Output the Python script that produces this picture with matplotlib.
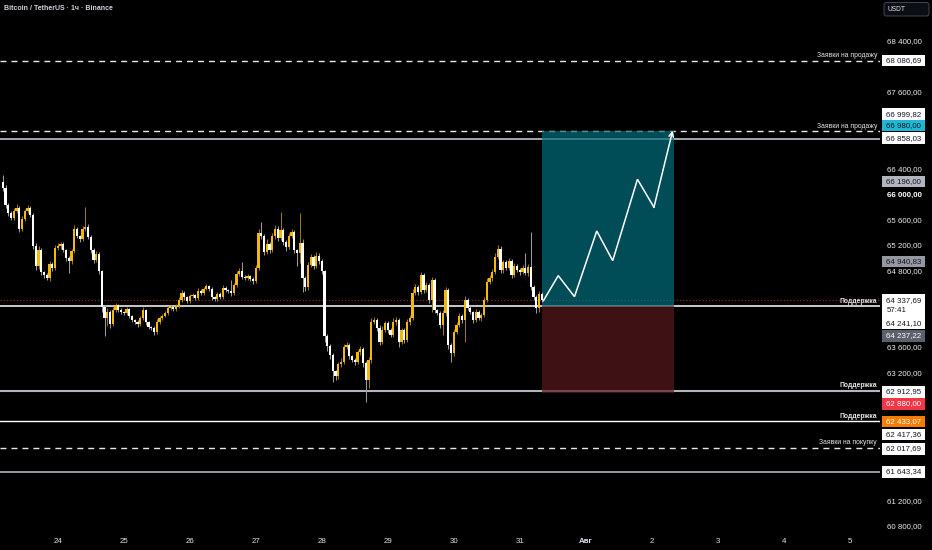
import numpy as np
import pandas as pd
import matplotlib
matplotlib.use("Agg")
import matplotlib.pyplot as plt
import matplotlib.dates as mdates
from matplotlib.patches import Rectangle, FancyBboxPatch
from matplotlib.transforms import IdentityTransform, blended_transform_factory, offset_copy


# ---- data (BTCUSDT 1h, Binance) ----
FIRST_BAR = "2024-07-23 04:00"
OPEN_FIRST = 66186.0

CLOSE = [
    66092, 65826, 65700, 65622, 65731, 65779, 65450, 65606, 65731, 65779,
    65669, 65183, 64870, 65120, 64776, 64729, 64682, 64901, 64839, 65151,
    65183, 65214, 65120, 64995, 64948, 65104, 65450, 65340, 65293, 65450,
    65481, 65324, 65120, 64964, 65057, 64791, 64227, 64055, 64149, 63961,
    64180, 64258, 64180, 64149, 64133, 64196, 64086, 64023, 63992, 63961,
    64055, 64180, 63992, 63914, 63898, 63836, 63992, 64055, 64086, 64133,
    64211, 64227, 64196, 64243, 64337, 64446, 64384, 64321, 64400, 64415,
    64368, 64477, 64446, 64509, 64556, 64509, 64384, 64352, 64431, 64384,
    64525, 64493, 64477, 64446, 64572, 64744, 64791, 64697, 64682, 64713,
    64666, 64634, 64839, 65387, 65340, 65089, 65214, 65120, 65340, 65450,
    65308, 65434, 65246, 65167, 65340, 65402, 65120, 65073, 65230, 64682,
    64540, 64885, 65010, 64870, 65026, 64948, 64791, 63773, 63616, 63475,
    63224, 63146, 63334, 63365, 63600, 63632, 63459, 63397, 63365, 63522,
    63569, 63350, 63083, 63397, 63992, 64023, 63898, 63679, 63867, 63977,
    63867, 63789, 63992, 64023, 63679, 63867, 63710, 63992, 64055, 64446,
    64540, 64462, 64729, 64493, 64572, 64337, 64650, 64180, 64133, 63945,
    64133, 64493, 63632, 63506, 63836, 63945, 64086, 64023, 64337, 64211,
    64149, 64023, 64149, 64055, 64102, 64337, 64619, 64682, 64776, 65010,
    65136, 64807, 64932, 64839, 64948, 64729, 64870, 64807, 64776, 64839,
    64760, 64854, 64540, 64384, 64211, 64430, 64337.69,
]

# upper / lower shadow length above / below the body, USDT
WICK_HI = [
    110, 40, 30, 25, 45, 60, 30, 50, 35, 40,
    30, 25, 40, 60, 30, 20, 25, 45, 30, 50,
    40, 30, 35, 20, 30, 25, 60, 30, 20, 45,
    313, 40, 25, 30, 45, 30, 20, 25, 70, 30,
    40, 35, 20, 25, 15, 30, 20, 15, 20, 25,
    30, 40, 20, 15, 20, 25, 40, 30, 25, 30,
    35, 25, 20, 30, 40, 45, 25, 20, 30, 25,
    20, 40, 25, 30, 35, 20, 25, 20, 30, 25,
    40, 25, 20, 170, 30, 45, 40, 141, 25, 30,
    20, 25, 40, 60, 172, 30, 80, 25, 50, 60,
    40, 282, 30, 25, 45, 50, 30, 20, 470, 60,
    25, 40, 50, 30, 70, 40, 30, 20, 25, 30,
    25, 20, 30, 60, 45, 40, 25, 20, 30, 35,
    40, 25, 30, 50, 70, 45, 30, 40, 60, 35,
    30, 25, 60, 40, 30, 35, 25, 50, 40, 60,
    45, 30, 50, 25, 40, 30, 40, 30, 20, 30,
    40, 50, 30, 25, 40, 45, 50, 30, 60, 35,
    25, 20, 40, 25, 30, 45, 60, 40, 50, 70,
    63, 40, 35, 30, 45, 25, 40, 30, 25, 40,
    234, 45, 549, 30, 25, 40, 30,
]
WICK_LO = [
    40, 50, 45, 30, 35, 25, 45, 30, 25, 30,
    35, 40, 60, 40, 45, 50, 32, 40, 45, 35,
    30, 40, 35, 45, 188, 40, 30, 35, 40, 30,
    25, 35, 40, 45, 30, 40, 77, 282, 120, 60,
    35, 30, 25, 30, 25, 30, 35, 25, 30, 40,
    30, 25, 40, 30, 25, 45, 30, 25, 30, 20,
    25, 30, 35, 25, 30, 25, 40, 30, 35, 25,
    30, 35, 25, 30, 20, 30, 40, 30, 25, 35,
    30, 25, 30, 40, 35, 30, 25, 35, 30, 25,
    30, 40, 35, 30, 45, 50, 35, 40, 30, 45,
    40, 30, 45, 60, 35, 30, 50, 203, 156, 220,
    60, 40, 35, 45, 30, 40, 50, 90, 80, 70,
    172, 60, 40, 45, 35, 30, 40, 35, 50, 30,
    40, 60, 344, 126, 40, 30, 45, 50, 35, 30,
    40, 35, 30, 40, 79, 35, 45, 30, 40, 35,
    30, 40, 35, 45, 30, 40, 190, 40, 35, 50,
    160, 40, 60, 141, 45, 30, 35, 40, 344, 30,
    35, 40, 30, 35, 40, 30, 35, 30, 40, 30,
    35, 45, 40, 30, 35, 40, 30, 35, 40, 30,
    35, 40, 45, 40, 80, 60, 40,
]

# horizontal levels drawn on the chart
LEVEL_PRICE = [68086.69, 66980.00, 66858.03, 64241.10, 62912.95, 62433.07, 62017.69, 61643.34]
LEVEL_TEXT = ["Заявки на продажу", "Заявки на продажу", "", "Поддержка",
              "Поддержка", "Поддержка", "Заявки на покупку", ""]

# long position tool
POS_START = "2024-07-31 08:00"
POS_END = "2024-08-02 08:00"
ENTRY = 64237.22
TARGET = 66980.00
STOP = 62880.00

# projected path drawn inside the position
PATH_TIME = ["2024-07-31 08:36", "2024-07-31 14:00", "2024-07-31 19:54", "2024-08-01 04:00",
             "2024-08-01 09:48", "2024-08-01 18:48", "2024-08-02 00:48", "2024-08-02 07:36"]
PATH_PRICE = [64326, 64718, 64389, 65418, 64953, 66228, 65790, 66990]

# right scale
Y_TICKS = [68400, 67600, 66400, 66000, 65600, 65200, 64800, 63600, 63200, 61200, 60800]
X_DAYS = ["2024-07-24", "2024-07-25", "2024-07-26", "2024-07-27", "2024-07-28", "2024-07-29",
          "2024-07-30", "2024-07-31", "2024-08-01", "2024-08-02", "2024-08-03", "2024-08-04",
          "2024-08-05"]
X_LABELS = ["24", "25", "26", "27", "28", "29", "30", "31", "Авг", "2", "3", "4", "5"]

# price labels on the scale
TAG_PRICE = [68086.69, 66999.82, 66980.00, 66858.03, 66196.00, 64940.83, 64241.10,
             64237.22, 62912.95, 62880.00, 62433.07, 62417.36, 62017.69, 61643.34]
COUNTDOWN = "57:41"


# ---- style ----
BG = "#000000"
TXT = "#d1d4dc"
UP = "#f0b90b"
DOWN = "#ffffff"
UP_WICK = "#9c7808"
DOWN_WICK = "#9a9a9a"
FONT = ["Liberation Sans", "DejaVu Sans"]

LEVEL_STYLE = [
    dict(color="#e8e8e8", lw=1.0, ls=(0, (4.3, 3.6))),
    dict(color="#e8e8e8", lw=1.0, ls=(0, (4.3, 3.6))),
    dict(color="#d1d4dc", lw=1.1, ls="-"),
    dict(color="#ffffff", lw=1.1, ls="-"),
    dict(color="#b2b5be", lw=1.5, ls="-"),
    dict(color="#ffffff", lw=1.0, ls="-"),
    dict(color="#e8e8e8", lw=1.0, ls=(0, (4.3, 3.6))),
    dict(color="#a3a6af", lw=1.3, ls="-"),
]
LEVEL_BOLD = [False, False, False, True, True, True, False, False]

# (face, text colour, vertical shift in px after stacking)
TAG_STYLE = [
    ("#ffffff", "#131722", 0),
    ("#ffffff", "#131722", -16),
    ("#1fb8d4", "#131722", -6),
    ("#ffffff", "#131722", -1),
    ("#b2b5be", "#131722", 0),
    ("#9598a1", "#131722", 0),
    ("#ffffff", "#131722", 17),
    ("#5d606b", "#ffffff", 29.5),
    ("#ffffff", "#131722", 1),
    ("#f23645", "#ffffff", 11),
    ("#f57c00", "#ffffff", 0),
    ("#ffffff", "#131722", 12),
    ("#ffffff", "#131722", 1),
    ("#ffffff", "#131722", 0),
]

W, H = 932, 550
FS = 5.7


def fmt_price(v):
    return f"{v:,.2f}".replace(",", " ").replace(".", ",")


def main():
    plt.rcParams["font.family"] = FONT

    fig = plt.figure(figsize=(W / 100, H / 100), dpi=100, facecolor=BG)
    ax = fig.add_axes([0, 18 / H, 880 / W, 532 / H], facecolor=BG)

    times = pd.date_range(FIRST_BAR, periods=len(CLOSE), freq="h")
    x = mdates.date2num(times)
    close = np.array(CLOSE, dtype=float)
    open_ = np.r_[OPEN_FIRST, close[:-1]]
    top = np.maximum(open_, close)
    bot = np.minimum(open_, close)
    hi = top + np.array(WICK_HI)
    lo = bot - np.array(WICK_LO)
    up = close >= open_

    x_left = mdates.date2num(pd.Timestamp("2024-07-23 03:00"))
    x_right = mdates.date2num(pd.Timestamp("2024-08-05 11:00"))
    ax.set_xlim(x_left, x_right)
    ax.set_ylim(60701, 69038)

    # levels
    for p, st in zip(LEVEL_PRICE, LEVEL_STYLE):
        ax.axhline(p, color=st["color"], lw=st["lw"], ls=st["ls"], zorder=1)
    ax.axhline(close[-1], color="#8a2226", lw=0.9, ls=(0, (1, 1.6)), zorder=1)

    lab_tr = offset_copy(blended_transform_factory(ax.transAxes, ax.transData),
                         fig=fig, x=0, y=1.5, units="dots")
    for p, t, b in zip(LEVEL_PRICE, LEVEL_TEXT, LEVEL_BOLD):
        if t:
            ax.text(877 / 880, p, t, transform=lab_tr, ha="right", va="bottom",
                    fontsize=4.9, color="#e6e6e6", fontweight="bold" if b else "normal",
                    zorder=6)

    # position tool
    p0 = mdates.date2num(pd.Timestamp(POS_START))
    p1 = mdates.date2num(pd.Timestamp(POS_END))
    ax.add_patch(Rectangle((p0, ENTRY), p1 - p0, TARGET - ENTRY,
                           facecolor="#006f7e", alpha=0.7, edgecolor="none", zorder=2))
    ax.add_patch(Rectangle((p0, STOP), p1 - p0, ENTRY - STOP,
                           facecolor="#591a1d", alpha=0.7, edgecolor="none", zorder=2))

    # candles
    bw = 0.74 / 24
    ax.vlines(x[up], lo[up], hi[up], color=UP_WICK, lw=0.75, zorder=3)
    ax.vlines(x[~up], lo[~up], hi[~up], color=DOWN_WICK, lw=0.75, zorder=3)
    heights = np.maximum(top - bot, 12)
    ax.bar(x, heights, bottom=bot, width=bw,
           color=np.where(up, UP, DOWN), linewidth=0, zorder=4)

    # projection path
    px = mdates.date2num(pd.to_datetime(PATH_TIME))
    ax.plot(px[:-1], PATH_PRICE[:-1], color="white", lw=1.1, zorder=5,
            solid_joinstyle="miter")
    ax.annotate("", xy=(px[-1], PATH_PRICE[-1]), xytext=(px[-2], PATH_PRICE[-2]),
                arrowprops=dict(arrowstyle="->", color="white", lw=1.1,
                                shrinkA=0, shrinkB=0, mutation_scale=8),
                zorder=5)

    # axes styling
    for s in ax.spines.values():
        s.set_visible(False)
    ax.yaxis.tick_right()
    ax.set_yticks(Y_TICKS, labels=[fmt_price(v) for v in Y_TICKS])
    ax.tick_params(axis="y", length=0, pad=5, labelsize=FS, labelcolor="#ececec")
    for lab, v in zip(ax.get_yticklabels(), Y_TICKS):
        if v == 66000:
            lab.set_fontweight("bold")
            lab.set_color("white")
    ax.set_xticks(mdates.date2num(pd.to_datetime(X_DAYS)), labels=X_LABELS)
    ax.tick_params(axis="x", length=0, pad=4, labelsize=FS, labelcolor="#e0e3eb")
    for lab, t in zip(ax.get_xticklabels(), X_LABELS):
        if t == "Авг":
            lab.set_fontweight("bold")
    ax.grid(False)

    # scale tags
    ident = IdentityTransform()
    fig.canvas.draw()

    def y_top(price):
        return H - ax.transData.transform((x_left, price))[1]

    def tag(yc, text, fc, tc, h=11.5):
        fig.add_artist(Rectangle((882, H - yc - h / 2), 43, h, transform=ident,
                                 facecolor=fc, edgecolor="none", zorder=10))
        fig.text(886.5, H - yc, text, transform=ident, ha="left", va="center",
                 fontsize=FS, color=tc, zorder=11)

    for p, (fc, tc, sh) in zip(TAG_PRICE, TAG_STYLE):
        tag(y_top(p) + sh, fmt_price(p), fc, tc)

    # last price + countdown
    yc = y_top(close[-1])
    fig.add_artist(Rectangle((882, H - yc - 17), 43, 22.5, transform=ident,
                             facecolor=DOWN, edgecolor="none", zorder=10))
    fig.text(886.5, H - yc - 0.5, fmt_price(close[-1]), transform=ident, ha="left",
             va="center", fontsize=FS, color="#131722", zorder=11)
    fig.text(886.5, H - yc - 11, COUNTDOWN, transform=ident, ha="left",
             va="center", fontsize=FS, color="#131722", zorder=11)

    # currency button
    fig.add_artist(FancyBboxPatch((884, H - 16), 45, 13.5,
                                  boxstyle="round,pad=0,rounding_size=2.5",
                                  transform=ident, facecolor="#0c0e15",
                                  edgecolor="#434651", lw=0.7, zorder=10))
    fig.text(888, H - 9.7, "USDT", transform=ident, ha="left", va="center",
             fontsize=4.8, color="#e8e8e8", zorder=11)

    fig.text(4, H - 9, "Bitcoin / TetherUS · 1ч · Binance", transform=ident,
             ha="left", va="center", fontsize=5.0, color=TXT, fontweight="bold")

    fig.savefig("out.png", dpi=100, facecolor=BG)
    plt.close(fig)


if __name__ == "__main__":
    assert len(CLOSE) == len(WICK_HI) == len(WICK_LO)
    main()
